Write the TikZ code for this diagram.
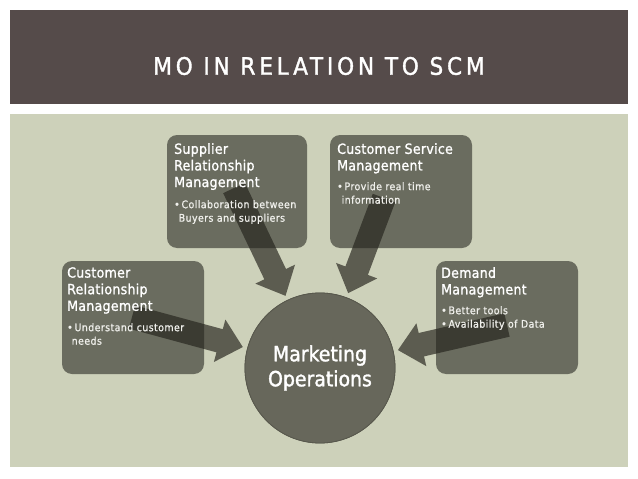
\documentclass[tikz,border=0pt]{standalone}
\usepackage{fontspec}
\setmainfont{DejaVu Sans Condensed}
\usetikzlibrary{calc}
\definecolor{titlebar}{RGB}{85,75,74}
\definecolor{panel}{RGB}{205,209,186}
\definecolor{boxfill}{RGB}{36,36,30}
\definecolor{arrowfill}{RGB}{92,92,80}
\definecolor{circfill}{RGB}{103,103,91}
\definecolor{bulletcol}{RGB}{240,240,236}
\tikzset{
  infobox/.style={fill=boxfill, fill opacity=0.58, rounded corners=10pt, draw=none},
  boxtitle/.style={anchor=north west, align=left, text=white, inner sep=0pt,
     font=\fontsize{14}{16.6}\selectfont\addfontfeatures{LetterSpace=2,FakeBold=1.2}},
  boxbullet/.style={anchor=north west, align=left, text=bulletcol, inner sep=0pt,
     font=\fontsize{10.5}{13.5}\selectfont\addfontfeatures{LetterSpace=4,FakeBold=0.8}},
  blockarrow/.style={fill=arrowfill, draw=none},
  centre/.style={circle, fill=circfill, draw=circfill!85!black, line width=0.8pt,
     minimum size=150pt, inner sep=0pt, text=white, align=center,
     font=\fontsize{21}{25}\selectfont\addfontfeatures{FakeBold=1.5}}
}
\newcommand{\mkarrow}[2]{%
  \fill[blockarrow]
    ($(#1)!12pt!90:(#2)$) --
    ($($(#2)!24pt!(#1)$)!12pt!-90:(#1)$) --
    ($($(#2)!24pt!(#1)$)!22pt!-90:(#1)$) --
    (#2) --
    ($($(#2)!24pt!(#1)$)!22pt!90:(#1)$) --
    ($($(#2)!24pt!(#1)$)!12pt!90:(#1)$) --
    ($(#1)!12pt!-90:(#2)$) -- cycle;
}
\begin{document}
\begin{tikzpicture}[x=1pt,y=-1pt]
\useasboundingbox (0,0) rectangle (638,479);
\fill[white] (0,0) rectangle (638,479);
% title bar
\fill[titlebar] (10,10) rectangle (628,104);
\node[text=white, font=\fontsize{24}{26}\selectfont\addfontfeatures{LetterSpace=16,FakeBold=1.5}] (title) at (319,66) {MO IN RELATION TO SCM};
% panel
\fill[panel] (10,114) rectangle (628,467);

% centre node
\node[centre] (mo) at (320,368) {};

% arrow start points
\coordinate (s1) at (234,188);
\coordinate (s2) at (384,198);
\coordinate (s3) at (132,317);
\coordinate (s4) at (507,325);
\coordinate (t1) at ($(mo.center)!80pt!(s1)$);
\coordinate (t2) at ($(mo.center)!80pt!(s2)$);
\coordinate (t3) at ($(mo.center)!80pt!(s3)$);
\coordinate (t4) at ($(mo.center)!80pt!(s4)$);
\mkarrow{s1}{t1}
\mkarrow{s2}{t2}
\mkarrow{s3}{t3}
\mkarrow{s4}{t4}

% redraw centre on top
\node[centre] (mo2) at (mo.center) {Marketing\\Operations};

% boxes
\fill[infobox] (167,135) rectangle (307,248);
\fill[infobox] (330,135) rectangle (472,248);
\fill[infobox] (62,261) rectangle (204,374);
\fill[infobox] (436,261) rectangle (578,374);

% texts
\node[boxtitle] (srmT) at (174,143) {Supplier\\Relationship\\Management};
\node[boxbullet] (srmB) at (174,200) {•\,Collaboration between\\\hspace*{4.5pt}Buyers and suppliers};

\node[boxtitle] (csmT) at (337,143) {Customer Service\\Management};
\node[boxbullet] (csmB) at (337,182) {•\,Provide real time\\\hspace*{4.5pt}information};

\node[boxtitle] (crmT) at (67,267) {Customer\\Relationship\\Management};
\node[boxbullet] (crmB) at (67,323) {•\,Understand customer\\\hspace*{4.5pt}needs};

\node[boxtitle] (dmT) at (441,267) {Demand\\Management};
\node[boxbullet] (dmB) at (441,306) {•\,Better tools\\•\,Availability of Data};
\end{tikzpicture}
\end{document}
